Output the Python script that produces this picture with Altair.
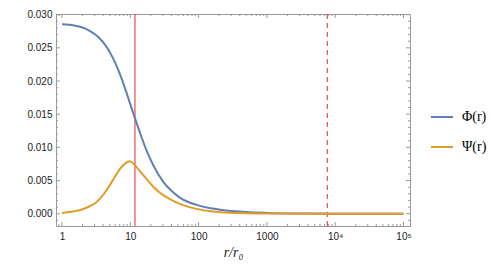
import altair as alt
import pandas as pd

# ---- data ----
r_vals = [1, 1.5, 2, 2.5, 3.04, 3.6, 4.26, 5.04, 5.97, 7.07, 8.36, 9.9, 11.7, 14.1,
          17.4, 22, 30.4, 40, 53, 93, 150, 205, 500, 1000, 3000, 10000, 100000]
phi_vals = [0.02855, 0.02837, 0.02806, 0.02761, 0.02705, 0.02636, 0.02548, 0.02430,
            0.02280, 0.02100, 0.01893, 0.01664, 0.01441, 0.01198, 0.00946, 0.00720,
            0.00480, 0.00345, 0.00243, 0.00134, 0.00082, 0.00061, 0.00025, 0.000125,
            0.00004, 0.0000125, 0.0000013]
psi_vals = [0.00010, 0.00036, 0.00067, 0.00109, 0.00157, 0.00227, 0.00320, 0.00435,
            0.00558, 0.00675, 0.00755, 0.00789, 0.00730, 0.00630, 0.00520, 0.00400,
            0.00280, 0.00210, 0.00148, 0.00073, 0.00038, 0.00023, 0.00008, 0.00004,
            0.000012, 0.000004, 0.0]
series_names = ["Φ(r)", "Ψ(r)"]
series_colors = ["#5E81B5", "#E19C24"]

x_major = [1, 10, 100, 1000, 10000, 100000]
x_labels = ["1", "10", "100", "1000", "10⁴", "10⁵"]
x_minor = [0.9] + [m * 10 ** d for d in range(5) for m in range(2, 10)]
y_major = [0.0, 0.005, 0.010, 0.015, 0.020, 0.025, 0.030]
y_minor = [-0.001] + [i / 1000 for i in range(1, 30) if i % 5]
vline_solid = [11.7]
vline_dashed = [7660]
x_domain = [0.817, 124500]
y_domain = [-0.00185, 0.0301]

W, H = 354, 212
FRAME = "#9a9a9a"
TICK = "#9a9a9a"
RED = "#E8292B"

xs = alt.Scale(type="log", domain=x_domain, nice=False)
ys = alt.Scale(domain=y_domain, nice=False, zero=False)

label_expr = " : ".join(
    f"datum.value == {v} ? '{l}'" for v, l in zip(x_major, x_labels)
) + " : ''"

x_axis = alt.Axis(
    values=x_major, labelExpr=label_expr, ticks=False, domain=False, grid=False,
    labelPadding=5, labelFont="Liberation Sans", labelFontSize=10, labelColor="#222",
    labelFlush=False, title="r/r₀", titleFont="Liberation Serif",
    titleFontStyle="italic", titleFontWeight="normal", titleFontSize=14,
    titleColor="#222", titlePadding=4)
y_axis = alt.Axis(
    values=y_major, format=".3f", ticks=False, domain=False, grid=False,
    labelPadding=4, labelFont="Liberation Sans", labelFontSize=10,
    labelColor="#222", title=None)

rows = []
for name, vals in zip(series_names, [phi_vals, psi_vals]):
    for r, v in zip(r_vals, vals):
        rows.append({"r": r, "val": v, "series": name})
df = pd.DataFrame(rows)


def xticks(vals, length, side):
    d = pd.DataFrame({"r": vals})
    y0, y1 = (H, H - length) if side == "bottom" else (0, length)
    return alt.Chart(d).mark_rule(color=TICK, strokeWidth=1).encode(
        x=alt.X("r:Q", scale=xs, axis=x_axis), y=alt.value(y0), y2=alt.value(y1))


def yticks(vals, length, side):
    d = pd.DataFrame({"val": vals})
    x0, x1 = (0, length) if side == "left" else (W, W - length)
    return alt.Chart(d).mark_rule(color=TICK, strokeWidth=1).encode(
        y=alt.Y("val:Q", scale=ys, axis=y_axis), x=alt.value(x0), x2=alt.value(x1))


solid = alt.Chart(pd.DataFrame({"r": vline_solid})).mark_rule(
    color=RED, strokeWidth=1).encode(x=alt.X("r:Q", scale=xs, axis=x_axis))
dashed = alt.Chart(pd.DataFrame({"r": vline_dashed})).mark_rule(
    color=RED, strokeWidth=1, strokeDash=[5, 4]).encode(x=alt.X("r:Q", scale=xs, axis=x_axis))

lines = alt.Chart(df).mark_line(strokeWidth=2, interpolate="monotone", clip=True).encode(
    x=alt.X("r:Q", scale=xs, axis=x_axis),
    y=alt.Y("val:Q", scale=ys, axis=y_axis),
    color=alt.Color("series:N", scale=alt.Scale(domain=series_names, range=series_colors),
                    legend=alt.Legend(title=None, orient="none", legendX=374, legendY=91,
                                      symbolType="stroke", symbolStrokeWidth=2,
                                      symbolSize=484, labelFont="Liberation Serif",
                                      labelFontSize=14, labelOffset=8, rowPadding=11,
                                      labelColor="#000")),
)

layers = [solid, dashed,
          xticks(x_major, 4, "bottom"), xticks(x_minor, 2, "bottom"),
          xticks(x_major, 4, "top"), xticks(x_minor, 2, "top"),
          yticks(y_major, 4, "left"), yticks(y_minor, 2, "left"),
          yticks(y_major, 4, "right"), yticks(y_minor, 2, "right"),
          lines]

chart = alt.layer(*layers).properties(
    width=W, height=H,
    padding={"left": 48, "top": 6, "right": 80, "bottom": 36},
    autosize=alt.AutoSizeParams(type="none"),
).configure_view(stroke=FRAME, strokeWidth=1)

chart.save("out.html", embed_options={"renderer": "svg", "actions": False})
